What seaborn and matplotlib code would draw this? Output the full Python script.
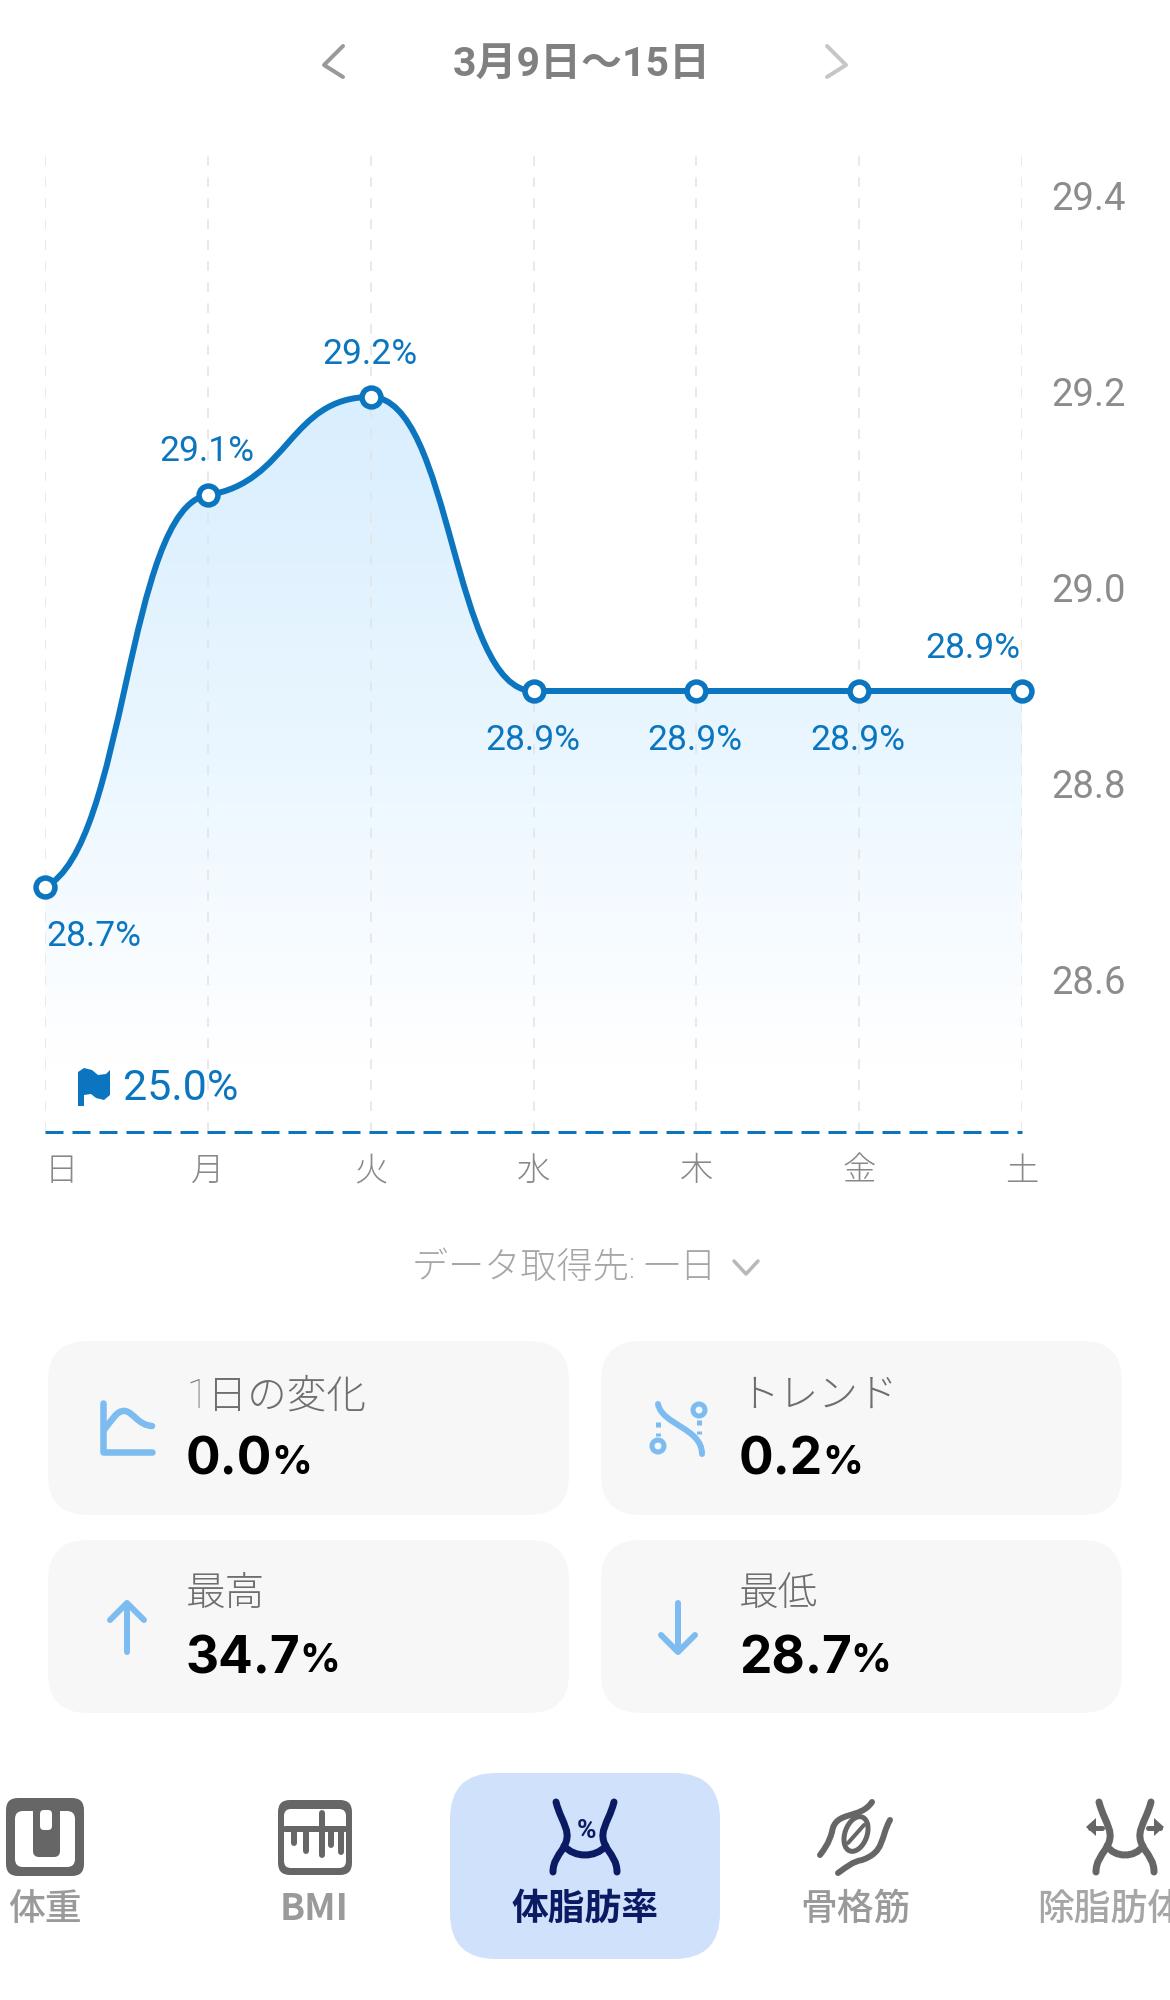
import numpy as np
import pandas as pd
import seaborn as sns
import matplotlib
matplotlib.use('Agg')
import matplotlib.pyplot as plt
from matplotlib.colors import LinearSegmentedColormap
from matplotlib.patches import FancyBboxPatch, PathPatch, Ellipse
from matplotlib.path import Path
from matplotlib.transforms import ScaledTranslation

# data
days = ['日', '月', '火', '水', '木', '金', '土']
values = [28.7, 29.1, 29.2, 28.9, 28.9, 28.9, 28.9]
value_labels = ['28.7%', '29.1%', '29.2%', '28.9%', '28.9%', '28.9%', '28.9%']
y_ticks = [28.6, 28.8, 29.0, 29.2, 29.4]
goal_label = '25.0%'
axis_floor = 28.45
title = '3月9日〜15日'
source_label = 'データ取得先: 一日'
card_titles = ['1日の変化', 'トレンド', '最高', '最低']
card_values = ['0.0', '0.2', '34.7', '28.7']
tab_labels = ['体重', 'BMI', '体脂肪率', '骨格筋', '除脂肪体重']

BLUE = '#0b76bf'
LIGHT = '#7dbcf0'
NAVY = '#0b1b63'
GREY_ICON = '#666666'
PX = 0.72  # one pixel in points at dpi 100

sns.set_theme(style='white')
plt.rcParams['font.family'] = ['Roboto', 'Noto Sans CJK JP', 'DejaVu Sans']
plt.rcParams['axes.unicode_minus'] = False

fig = plt.figure(figsize=(11.7, 20), dpi=100, facecolor='white')

# pixel canvas for the app chrome
ui = fig.add_axes([0, 0, 1, 1])
ui.set_xlim(0, 1170)
ui.set_ylim(2000, 0)
ui.axis('off')

# plot area: x 45..1022, y 153..1132 px
ax = fig.add_axes([45 / 1170, 1 - 1132 / 2000, 977 / 1170, 979 / 2000])
ax.patch.set_alpha(0)
df = pd.DataFrame({'day': days, 'value': values})


def curve_path(values):
    # smooth the segments between the values with bezier handles
    secants = np.diff(values)
    slopes = [secants[0] * 0.2]
    for a, b in zip(secants[:-1], secants[1:]):
        slopes.append(0.25 * np.sign(a) * min(abs(a), abs(b)) if a * b > 0 else 0.0)
    slopes.append(0.0)
    verts = [(0, values[0])]
    codes = [Path.MOVETO]
    for i in range(len(values) - 1):
        h = 0.5
        verts += [(i + h, values[i] + slopes[i] * h),
                  (i + 1 - h, values[i + 1] - slopes[i + 1] * h),
                  (i + 1, values[i + 1])]
        codes += [Path.CURVE4] * 3
    return verts, codes


verts, codes = curve_path(values)

# gradient under the curve
fade = LinearSegmentedColormap.from_list('fade', ['#d9eefe', '#e9f6ff', '#ffffff'])
area_verts = verts + [(len(values) - 1, axis_floor), (0, axis_floor), (0, values[0])]
area_codes = codes + [Path.LINETO, Path.LINETO, Path.CLOSEPOLY]
area = PathPatch(Path(area_verts, area_codes), transform=ax.transData, fc='none', ec='none')
ax.add_patch(area)
grad = ax.imshow(np.linspace(0, 1, 256).reshape(-1, 1), cmap=fade, aspect='auto',
                 extent=(0, 6, axis_floor + 0.07, max(values)), origin='upper', zorder=1)
grad.set_clip_path(area)

sns.scatterplot(data=df, x='day', y='value', ax=ax, s=185, color='white', edgecolor=BLUE,
                linewidth=5.5 * PX, zorder=5, clip_on=False, legend=False)
ax.add_patch(PathPatch(Path(verts, codes), fc='none', ec=BLUE, lw=6 * PX, zorder=4,
                       capstyle='round', clip_on=False))
ax.axhline(axis_floor, color=BLUE, lw=3 * PX, ls=(0, (6, 3)), zorder=3, clip_on=False)

ax.set_xlim(0, 6)
ax.set_ylim(axis_floor, axis_floor + 979 / 980)
ax.set_xlabel('')
ax.set_ylabel('')
for s in ax.spines.values():
    s.set_visible(False)
ax.xaxis.grid(True, color='#e3e3e3', lw=1.5 * PX, ls=(0, (6.5, 7.5)), zorder=2)
ax.yaxis.grid(False)
ax.set_axisbelow(False)
ax.yaxis.tick_right()
ax.set_yticks(y_ticks)
ax.set_yticklabels([f'{v:.1f}' for v in y_ticks], color='#8c8c8c', fontsize=27.5)
ax.tick_params(axis='y', length=0, pad=21)
ax.tick_params(axis='x', length=0, pad=16)
ax.set_xticks(range(len(days)))
ax.set_xticklabels(days, color='#888888', fontsize=24, family='Noto Sans CJK JP',
                   fontweight='light')
ax.get_xticklabels()[0].set_ha('left')
# tick labels sit a little above their value; tick_params resets transforms so do this last
lift = ScaledTranslation(0, 5 / 100, fig.dpi_scale_trans)
for lab in ax.get_yticklabels():
    lab.set_transform(lab.get_transform() + lift)

# value labels: offset in pixels from each point
offsets = [(1, 49), (-1, -43), (-1, -43), (-1, 50), (-1, 50), (-1, 50), (-49, -43)]
for i, (lab, off) in enumerate(zip(value_labels, offsets)):
    ax.annotate(lab, (i, values[i]), xytext=(off[0] * PX, -off[1] * PX),
                textcoords='offset points', color=BLUE, fontsize=25.5,
                ha='left' if i == 0 else 'center', va='center', zorder=6)

# goal flag
flag = [(78, 1072), (84, 1068), (92, 1070), (98, 1075), (106, 1074), (110, 1070), (110, 1095),
        (104, 1100), (96, 1098), (91, 1094), (84, 1095), (84, 1106), (78, 1106)]
ui.fill(*zip(*flag), color=BLUE, lw=0)
ui.text(123, 1088, goal_label, color=BLUE, fontsize=31, va='center', ha='left')

# header
ui.text(582, 65, title, color='#808080', fontsize=29.5, fontweight='bold', va='center', ha='center')
ui.plot([343, 324, 343], [46, 65, 77], color='#999999', lw=4 * PX, solid_capstyle='round')
ui.plot([827, 846, 827], [46, 65, 77], color='#c6c6c6', lw=4 * PX, solid_capstyle='round')

# source selector
ui.text(412, 1268, source_label, color='#a6a6a6', fontsize=26, fontweight='light',
        va='center', ha='left')
ui.plot([734, 746, 758], [1261, 1274, 1261], color='#b8b8b8', lw=3.5 * PX, solid_capstyle='round')


def rounded(x0, y0, x1, y1, r, color):
    ui.add_patch(FancyBboxPatch((x0 + r, y0 + r), x1 - x0 - 2 * r, y1 - y0 - 2 * r,
                                boxstyle=f'round,pad={r},rounding_size={r}', fc=color, ec='none'))


def stroke(points, color, lw, cap='round'):
    # points: start, then triples of bezier control points
    codes = [Path.MOVETO] + [Path.CURVE4] * (len(points) - 1)
    ui.add_patch(PathPatch(Path(points, codes), fc='none', ec=color, lw=lw * PX, capstyle=cap))


# cards
card_boxes = [(48, 1341, 569, 1515), (601, 1341, 1122, 1515), (48, 1540, 569, 1713), (601, 1540, 1122, 1713)]
card_x = [186, 739, 186, 739]
title_y = [1396, 1396, 1594, 1594]
value_y = [1461, 1461, 1660, 1660]
renderer = fig.canvas.get_renderer()
for box, tx, ty, vy, name, val in zip(card_boxes, card_x, title_y, value_y, card_titles, card_values):
    rounded(*box, 40, '#f7f7f7')
    ui.text(tx, ty, name, color='#6e6e6e', fontsize=28.5, fontweight='light', va='center', ha='left')
    t = ui.text(tx, vy, val, color='black', fontsize=37, fontweight='bold', va='center', ha='left',
                family=['Inter', 'Roboto'])
    ext = t.get_window_extent(renderer)
    ui.text(ext.x1 - 1, vy + 2, '%', color='black', fontsize=29, fontweight='bold', va='center',
            ha='left', family=['Inter', 'Roboto'])

# card icons
ui.plot([103, 103, 152], [1403, 1452, 1452], color=LIGHT, lw=6.5 * PX, solid_capstyle='round',
        solid_joinstyle='round')
stroke([(104, 1430), (112, 1420), (117, 1410), (125, 1411), (133, 1412), (138, 1425), (152, 1426)], LIGHT, 6.5)
stroke([(658, 1404), (662, 1425), (702, 1428), (702, 1454)], LIGHT, 6)
for cx, cy in [(658, 1446), (699, 1410)]:
    ui.add_patch(Ellipse((cx, cy), 12, 12, fc='none', ec=LIGHT, lw=5 * PX))
ui.plot([658, 658], [1422, 1436], color=LIGHT, lw=5 * PX, ls=(0, (1, 1.2)))
ui.plot([699, 699], [1420, 1434], color=LIGHT, lw=5 * PX, ls=(0, (1, 1.2)))
ui.plot([127, 127], [1604, 1652], color=LIGHT, lw=6 * PX, solid_capstyle='round')
ui.plot([110, 127, 144], [1620, 1603, 1620], color=LIGHT, lw=6 * PX, solid_capstyle='round',
        solid_joinstyle='round')
ui.plot([678, 678], [1603, 1651], color=LIGHT, lw=6 * PX, solid_capstyle='round')
ui.plot([661, 678, 695], [1635, 1652, 1635], color=LIGHT, lw=6 * PX, solid_capstyle='round',
        solid_joinstyle='round')

# bottom tabs
rounded(450, 1773, 720, 1959, 46, '#d0e1fb')
tab_x = [45, 314, 585, 855, 1037]
tab_colors = ['#9a9a9a', '#9a9a9a', NAVY, '#9a9a9a', '#a6a6a6']
tab_weights = ['medium', 'bold', 'bold', 'medium', 'medium']
for i, (name, x) in enumerate(zip(tab_labels, tab_x)):
    ui.text(x, 1909, name, color=tab_colors[i], fontsize=26.5, fontweight=tab_weights[i], va='center',
            ha='left' if i == 4 else 'center', family=['Noto Sans CJK JP', 'Roboto'])

# tab 1: scale
rounded(6, 1798, 84, 1876, 12, GREY_ICON)
rounded(15, 1811, 75, 1867, 8, 'white')
rounded(33, 1800, 60, 1857, 6, GREY_ICON)
rounded(40, 1810, 52, 1830, 4, 'white')

# tab 2: BMI ruler
rounded(278, 1800, 352, 1875, 12, GREY_ICON)
rounded(284, 1809, 346, 1868, 7, 'white')
ui.plot([285, 345], [1829, 1829], color=GREY_ICON, lw=6 * PX)
for tx, t0, t1 in [(294, 1829, 1843), (306, 1829, 1851), (322, 1813, 1855), (331, 1829, 1845), (341, 1829, 1852)]:
    ui.plot([tx, tx], [t0, t1], color=GREY_ICON, lw=6 * PX, solid_capstyle='round')


def body(cx, half, color, lw=7):
    stroke([(cx - half, 1802), (cx - half + 6, 1825), (cx - half + 18, 1832), (cx - half + 6, 1850),
            (cx - half + 2, 1856), (cx - half - 3, 1862), (cx - half - 3, 1872)], color, lw)
    stroke([(cx + half, 1802), (cx + half - 6, 1825), (cx + half - 18, 1832), (cx + half - 6, 1850),
            (cx + half - 2, 1856), (cx + half + 3, 1862), (cx + half + 3, 1872)], color, lw)
    stroke([(cx - half + 8, 1846), (cx - 10, 1858), (cx + 10, 1858), (cx + half - 8, 1846)], color, lw)


# tab 3: body fat
body(585, 29, NAVY)
ui.text(587, 1831, '%', color=NAVY, fontsize=19, fontweight='bold', ha='center', va='center')

# tab 4: muscle
stroke([(872, 1802), (860, 1820), (835, 1810), (832, 1832), (828, 1845), (825, 1848), (820, 1855)], GREY_ICON, 6)
stroke([(890, 1820), (880, 1838), (885, 1852), (862, 1860), (852, 1862), (848, 1866), (838, 1873)], GREY_ICON, 6)
ui.add_patch(Ellipse((856, 1834), 22, 36, angle=20, fc='none', ec=GREY_ICON, lw=5 * PX))
ui.plot([848, 864], [1843, 1825], color=GREY_ICON, lw=4 * PX)

# tab 5: lean mass
body(1125, 26, GREY_ICON)
ui.fill([1086, 1096, 1096], [1827, 1818, 1836], color=GREY_ICON, lw=0)
ui.plot([1090, 1102], [1828, 1828], color=GREY_ICON, lw=5 * PX)
ui.plot([1148, 1160], [1828, 1828], color=GREY_ICON, lw=5 * PX)
ui.fill([1164, 1154, 1154], [1827, 1818, 1836], color=GREY_ICON, lw=0)

fig.savefig('out.png', dpi=100)
